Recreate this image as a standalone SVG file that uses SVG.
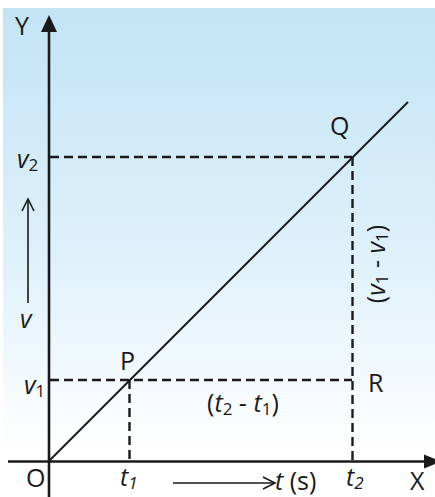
<svg xmlns="http://www.w3.org/2000/svg" width="435" height="497" viewBox="0 0 435 497">
<defs>
<linearGradient id="bg" gradientUnits="userSpaceOnUse" x1="0" y1="8" x2="0" y2="450">
<stop offset="0" stop-color="#c3e4f5"/>
<stop offset="0.55" stop-color="#def0fa"/>
<stop offset="1" stop-color="#ffffff"/>
</linearGradient>
<style>
.lbl{font-family:"Open Sans","DejaVu Sans",sans-serif;font-size:25px;fill:#1a1a1a}
.it{font-style:italic}
.sub{font-size:17px}
.axis{stroke:#1a1a1a;stroke-width:2.6;fill:none}
.dash{stroke:#1a1a1a;stroke-width:2.4;stroke-dasharray:9 5;fill:none}
.thin{stroke:#1a1a1a;stroke-width:1.6;fill:none}
.head{fill:#1a1a1a}
</style>
</defs>
<rect x="3" y="8" width="432" height="489" fill="url(#bg)"/>

<g id="connectors">
<line class="dash" x1="50" y1="157" x2="352" y2="157"/>
<line class="dash" x1="352.5" y1="157" x2="352.5" y2="461"/>
<line class="dash" x1="50" y1="380" x2="352" y2="380"/>
<line class="dash" x1="129.5" y1="380" x2="129.5" y2="461"/>
<line x1="49" y1="461" x2="408" y2="102" stroke="#1a1a1a" stroke-width="2"/>
</g>

<g id="y-axis">
<line class="axis" x1="49" y1="30" x2="49" y2="497"/>
<polygon class="head" points="49,15 41,32 57,32"/>
<text class="lbl" x="15" y="35">Y</text>
</g>

<g id="x-axis">
<line class="axis" x1="8" y1="461.5" x2="426" y2="461.5"/>
<polygon class="head" points="441,461.5 424,454.5 424,468.5"/>
<text class="lbl" x="410" y="490">X</text>
</g>

<g id="origin">
<text class="lbl" x="26" y="487">O</text>
</g>

<g id="v-arrow">
<line class="thin" x1="28" y1="303" x2="28" y2="199"/>
<polyline class="thin" points="22,211 28,199 34,211"/>
<text class="lbl it" x="20" y="328" font-size="27">v</text>
</g>

<g id="t-arrow">
<line class="thin" x1="173" y1="483" x2="274" y2="483"/>
<polyline class="thin" points="263,477 275,483 263,489"/>
<text class="lbl" x="275" y="490"><tspan class="it">t</tspan> (s)</text>
</g>

<g id="label-v2">
<text class="lbl" x="17" y="168"><tspan class="it">v</tspan><tspan class="sub" dy="3">2</tspan></text>
</g>

<g id="label-v1">
<text class="lbl" x="24" y="394"><tspan class="it">v</tspan><tspan class="sub" dy="3">1</tspan></text>
</g>

<g id="label-t1">
<text class="lbl it" x="120" y="486">t<tspan class="sub" dy="3">1</tspan></text>
</g>

<g id="label-t2">
<text class="lbl it" x="346" y="486">t<tspan class="sub" dy="3">2</tspan></text>
</g>

<g id="point-P">
<text class="lbl" x="120" y="370">P</text>
</g>

<g id="point-Q">
<text class="lbl" x="330" y="135">Q</text>
</g>

<g id="point-R">
<text class="lbl" x="368" y="392">R</text>
</g>

<g id="label-dt">
<text class="lbl" x="207" y="412" font-size="26">(<tspan class="it">t</tspan><tspan class="sub" dy="3">2</tspan><tspan dy="-3"> - </tspan><tspan class="it">t</tspan><tspan class="sub" dy="3">1</tspan><tspan dy="-3">)</tspan></text>
</g>

<g id="label-dv">
<text class="lbl" transform="translate(385,264) rotate(-90)" text-anchor="middle" font-size="26">(<tspan class="it">v</tspan><tspan class="sub" dy="3">1</tspan><tspan dy="-3"> - </tspan><tspan class="it">v</tspan><tspan class="sub" dy="3">1</tspan><tspan dy="-3">)</tspan></text>
</g>
</svg>
